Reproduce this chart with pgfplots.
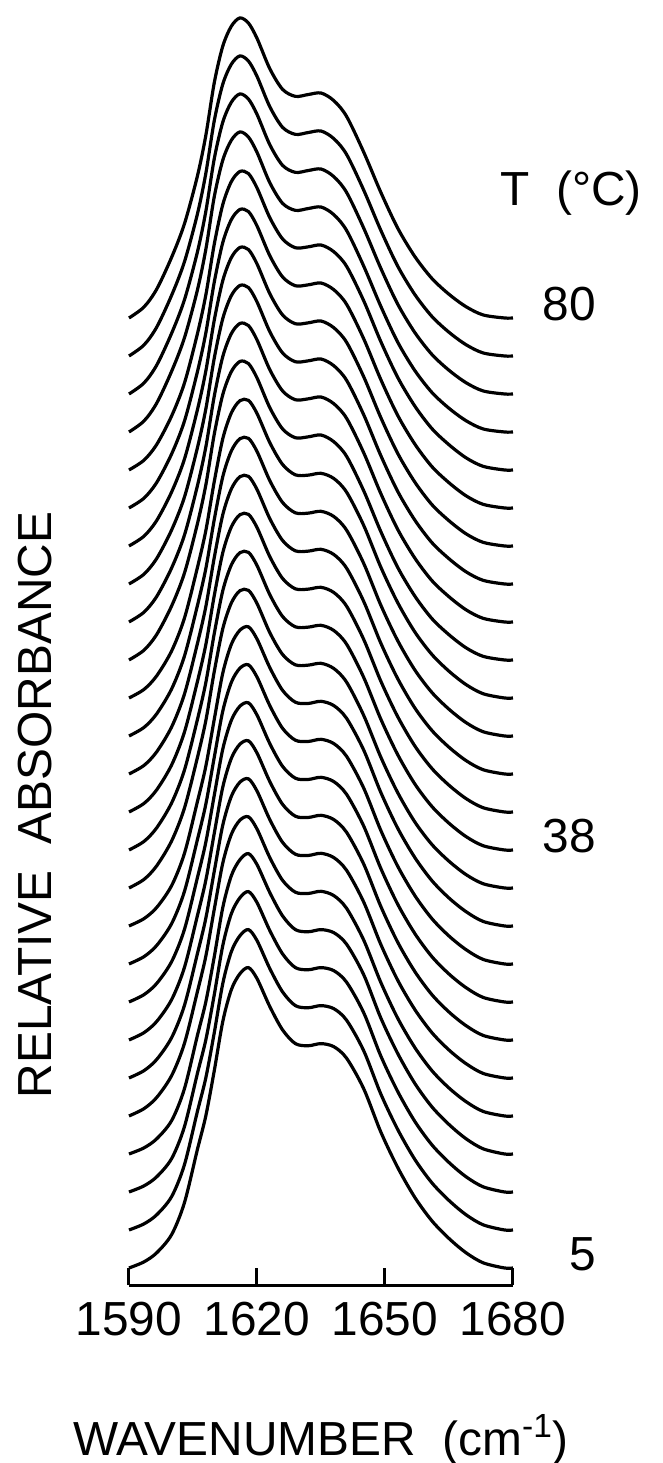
\documentclass[border=0pt]{standalone}
\usepackage{fontspec}
\setmainfont{Liberation Sans}
\usepackage{pgfplots}
\usepackage{pgfplotstable}
\pgfplotsset{compat=1.18}

% Amide I band, normalised absorbance (peak = 1).
% g0: 5-14 C, g1: 17-32 C, g2: 35-50 C, g3: 53-68 C, g4: 71-80 C
\pgfplotstableread{
wn     g0    g1    g2    g3    g4
1590.0 0.000 0.000 0.000 0.000 0.000
1593.5 0.020 0.024 0.028 0.032 0.036
1596.5 0.050 0.061 0.073 0.084 0.095
1600.0 0.110 0.133 0.155 0.178 0.200
1603.0 0.215 0.239 0.263 0.286 0.310
1606.0 0.388 0.407 0.427 0.446 0.465
1608.0 0.500 0.525 0.550 0.575 0.600
1610.0 0.650 0.681 0.713 0.744 0.775
1612.0 0.812 0.833 0.854 0.874 0.895
1614.0 0.916 0.927 0.938 0.949 0.960
1616.0 0.968 0.973 0.978 0.982 0.987
1618.0 0.988 0.984 0.979 0.975 0.970
1620.0 0.952 0.944 0.936 0.928 0.920
1623.0 0.860 0.850 0.840 0.830 0.820
1626.0 0.783 0.775 0.768 0.760 0.752
1629.0 0.738 0.736 0.734 0.731 0.729
1632.0 0.731 0.732 0.733 0.734 0.735
1635.0 0.738 0.739 0.739 0.740 0.740
1638.0 0.728 0.725 0.722 0.718 0.715
1641.0 0.690 0.683 0.677 0.670 0.663
1645.0 0.590 0.579 0.568 0.557 0.546
1649.0 0.448 0.440 0.431 0.423 0.414
1653.0 0.330 0.321 0.313 0.304 0.295
1657.0 0.232 0.225 0.217 0.210 0.202
1661.0 0.155 0.149 0.143 0.136 0.130
1665.0 0.097 0.092 0.088 0.083 0.078
1669.0 0.050 0.047 0.044 0.040 0.037
1673.0 0.017 0.015 0.014 0.012 0.010
1678.0 0.000 0.000 0.000 0.000 0.000
1680.0 0.000 0.000 0.000 0.000 0.000
}\spectra

\begin{document}
\begin{tikzpicture}[font=\fontsize{24}{28}\selectfont,
  spec/.style={black, line width=1.6bp, smooth, no markers, solid}]
\useasboundingbox (-64.5bp,-89bp) rectangle (267bp,642.5bp);
\begin{axis}[
  at={(0,0)}, anchor=south west,
  scale only axis, width=192bp, height=642.5bp,
  xmin=1590, xmax=1680, ymin=-0.056, ymax=4.171,
  clip=false,
  axis x line*=bottom, axis y line*=left,
  x axis line style={line width=1.5bp},
  y axis line style={draw=none},
  xtick={1590,1620,1650,1680},
  tick align=inside, major tick length=8.5bp,
  tick style={line width=1.5bp, black},
  ytick=\empty,
  xticklabel style={font=\fontsize{24}{28}\selectfont, anchor=north, yshift=-5bp},
  /pgf/number format/assume math mode=true,
  /pgf/number format/1000 sep={},
  xlabel={WAVENUMBER\ \ (cm\textsuperscript{-1})},
  xlabel style={at={(axis description cs:0.5,0)}, anchor=center, yshift=-77.5bp},
  ylabel={RELATIVE\ \ ABSORBANCE},
  ylabel style={at={(axis description cs:-0.245,0.3735)}, anchor=center},
]
% one spectrum every 3 C from 5 C (bottom) to 80 C (top), offset 0.125 each
\pgfplotsinvokeforeach{0,...,3}{
  \addplot[spec] table[x=wn, y expr=\thisrow{g0}+0.125*#1] {\spectra};
}
\pgfplotsinvokeforeach{4,...,9}{
  \addplot[spec] table[x=wn, y expr=\thisrow{g1}+0.125*#1] {\spectra};
}
\pgfplotsinvokeforeach{10,...,15}{
  \addplot[spec] table[x=wn, y expr=\thisrow{g2}+0.125*#1] {\spectra};
}
\pgfplotsinvokeforeach{16,...,21}{
  \addplot[spec] table[x=wn, y expr=\thisrow{g3}+0.125*#1] {\spectra};
}
\pgfplotsinvokeforeach{22,...,25}{
  \addplot[spec] table[x=wn, y expr=\thisrow{g4}+0.125*#1] {\spectra};
}
\node[anchor=center] at (axis cs:1693.6,3.536) {T\ \ (°C)};
\node[anchor=east, inner sep=0pt] at (axis cs:1699.5,3.170) {80};
\node[anchor=east, inner sep=0pt] at (axis cs:1699.5,1.420) {38};
\node[anchor=east, inner sep=0pt] at (axis cs:1699.5,0.045) {5};
\end{axis}
\end{tikzpicture}
\end{document}
